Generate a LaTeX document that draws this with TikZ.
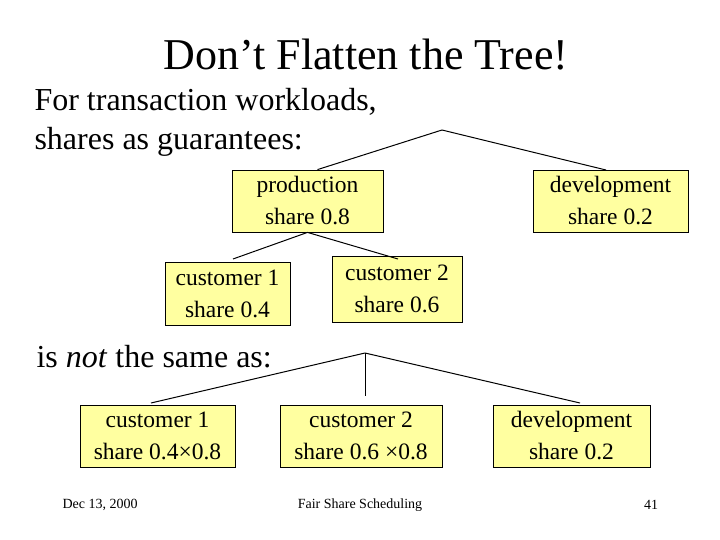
\documentclass[tikz,border=0pt]{standalone}
\usepackage{fontspec}
\setmainfont{Liberation Serif}
\begin{document}
\begin{tikzpicture}[x=1pt,y=-1pt,
  box/.style={draw=black,fill={rgb,255:red,255;green,255;blue,160},line width=0.8pt,align=center,font=\fontsize{23.5}{32}\selectfont,inner sep=0pt},
  edge/.style={line width=1pt}]
\useasboundingbox (0,0) rectangle (720,540);
\node (title) at (366,55) {\fontsize{44}{48}\selectfont Don’t Flatten the Tree!};
\node[anchor=north west,align=left,font=\fontsize{32}{39}\selectfont] (intro) at (31,85) {For transaction workloads,\\shares as guarantees:};
\node[anchor=west,font=\fontsize{32}{36}\selectfont] (notsame) at (33,357) {is \emph{not} the same as:};
% top tree
\node[box,minimum width=151,minimum height=62] (prod) at (307.5,201) {production\\share 0.8};
\node[box,minimum width=155,minimum height=62] (dev) at (610.5,201) {development\\share 0.2};
\node[box,minimum width=125,minimum height=63] (c1) at (227.5,293.5) {customer 1\\share 0.4};
\node[box,minimum width=130,minimum height=66] (c2) at (397,289) {customer 2\\share 0.6};
\coordinate (r1) at (442,130);
\coordinate (p1) at (233,259);
\coordinate (p2) at (398,259);
\coordinate (d1) at (606,170);
\draw[edge] (r1) -- ([xshift=10pt]prod.north);
\draw[edge] (r1) -- (d1);
\draw[edge] (prod.south) -- (p1);
\draw[edge] (prod.south) -- (p2);
% bottom tree
\node[box,minimum width=155,minimum height=62] (b1) at (157.5,436) {customer 1\\share 0.4\texttimes0.8};
\node[box,minimum width=162,minimum height=62] (b2) at (361,436) {customer 2\\share 0.6 \texttimes0.8};
\node[box,minimum width=157,minimum height=62] (b3) at (571.5,436) {development\\share 0.2};
\coordinate (r2) at (365,353);
\coordinate (q1) at (151,403);
\coordinate (q2) at (365,396);
\coordinate (q3) at (580,403);
\draw[edge] (r2) -- (q1);
\draw[edge] (r2) -- (q2);
\draw[edge] (r2) -- (q3);
% footer
\node[font=\fontsize{14}{16}\selectfont,anchor=west] (date) at (59,505) {Dec 13, 2000};
\node[font=\fontsize{14}{16}\selectfont] (fss) at (360,505) {Fair Share Scheduling};
\node[font=\fontsize{14}{16}\selectfont] (pg) at (651,505) {41};
\end{tikzpicture}
\end{document}
